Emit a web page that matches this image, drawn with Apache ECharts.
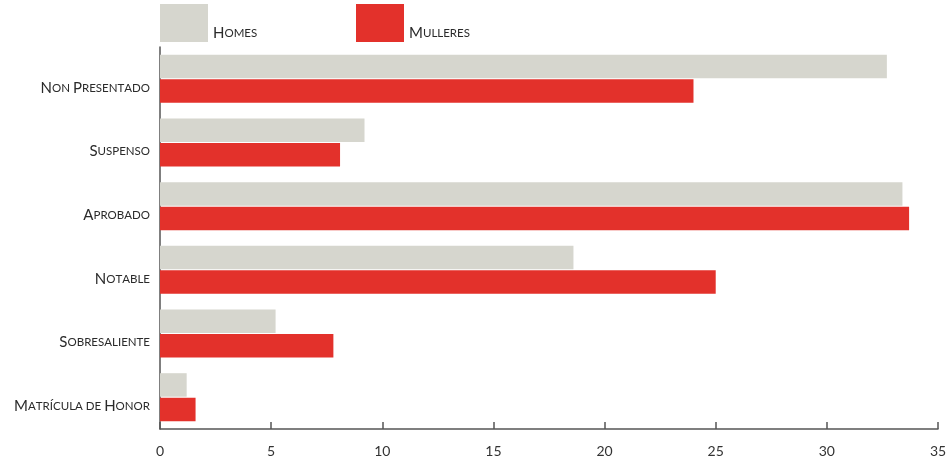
<!DOCTYPE html>
<html>
<head>
<meta charset="utf-8">
<script src="https://cdn.jsdelivr.net/npm/echarts@6/dist/echarts.min.js"></script>
<style>html,body{margin:0;padding:0;background:#fff}#c{width:952px;height:465px}</style>
</head>
<body>
<div id="c"></div>
<script>
var categories = ['Non Presentado', 'Suspenso', 'Aprobado', 'Notable', 'Sobresaliente', 'Matrícula de Honor'];
var homes = [32.7, 9.2, 33.4, 18.6, 5.2, 1.2];
var mulleres = [24.0, 8.1, 33.7, 25.0, 7.8, 1.6];
var xTicks = [0, 5, 10, 15, 20, 25, 30, 35];

function smallCaps(s) {
  return s.split(' ').map(function (w) {
    var out = '';
    for (var i = 0; i < w.length; i++) {
      var ch = w[i];
      if (ch === ch.toUpperCase() && ch !== ch.toLowerCase()) out += '{b|' + ch + '}';
      else out += '{s|' + ch.toUpperCase() + '}';
    }
    return out;
  }).join('{s| }');
}
var FONT = 'Lato';
var rich = {
  b: { fontFamily: FONT, fontSize: 15, color: '#2a2a2a' },
  s: { fontFamily: FONT, fontSize: 11.5, color: '#2a2a2a' }
};
var chart = echarts.init(document.getElementById('c'));
var legendCommon = {
  top: 4, padding: 0, itemWidth: 48, itemHeight: 38, itemGap: 0, icon: 'rect',
  formatter: function (n) { return smallCaps(n); },
  textStyle: { rich: rich, padding: [20, 0, 0, 0] }
};
chart.setOption({
  animation: false,
  backgroundColor: '#fff',
  legend: [
    Object.assign({ data: ['Homes'], left: 160 }, legendCommon),
    Object.assign({ data: ['Mulleres'], left: 356 }, legendCommon)
  ],
  grid: { left: 160, right: 14, top: 47, bottom: 36, containLabel: false },
  xAxis: {
    type: 'value', min: 0, max: 35, interval: 5,
    axisLine: { show: true, lineStyle: { color: '#555', width: 1.5 } },
    axisTick: { show: true, inside: true, length: 7, lineStyle: { color: '#555', width: 1.5 } },
    axisLabel: { fontFamily: FONT, fontSize: 14, color: '#333', margin: 15,
      formatter: function (v) { return xTicks.indexOf(v) >= 0 ? String(v) : ''; } },
    splitLine: { show: false }
  },
  yAxis: {
    type: 'category', data: categories, inverse: true,
    axisLine: { show: true, lineStyle: { color: '#555', width: 1.5 } },
    axisTick: { show: false },
    axisLabel: { margin: 10, formatter: function (v) { return smallCaps(v); }, rich: rich, padding: [18, 0, 0, 0] }
  },
  series: [
    { name: 'Homes', type: 'bar', data: homes, barWidth: 23.5, barGap: '4%',
      itemStyle: { color: '#d6d6ce' } },
    { name: 'Mulleres', type: 'bar', data: mulleres, barWidth: 23.5,
      itemStyle: { color: '#e3312b' } }
  ]
});
</script>
</body>
</html>
